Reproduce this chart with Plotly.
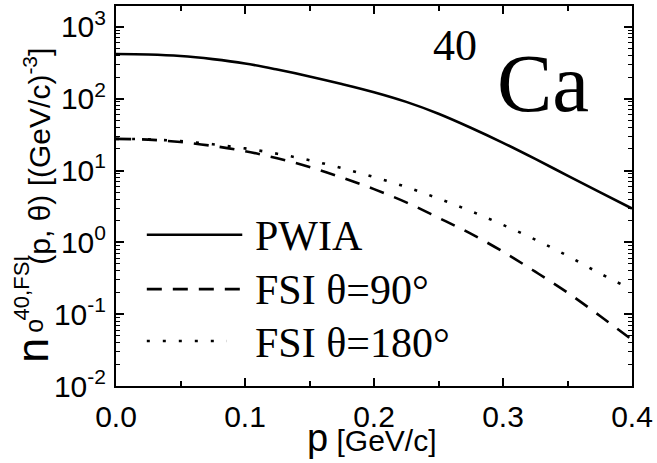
import plotly.graph_objects as go

p_vals = [0.0, 0.025, 0.05, 0.075, 0.1, 0.125, 0.15, 0.175, 0.2, 0.225, 0.25,
          0.275, 0.3, 0.325, 0.35, 0.375, 0.4]
pwia = [419, 412, 392, 355, 309, 254, 204, 160, 123, 90.2, 61.7, 39.4, 24.3, 14.5, 8.5,
        5.0, 2.95]
fsi90 = [27.6, 26.9, 24.9, 22.0, 18.6, 14.8, 11.2, 8.0, 5.5, 3.6, 2.2, 1.32, 0.74, 0.39,
         0.20, 0.095, 0.044]
fsi180 = [27.6, 27.1, 25.6, 23.2, 20.3, 17.1, 13.9, 10.8, 8.1, 5.9, 4.07, 2.72, 1.75, 1.09,
          0.65, 0.37, 0.22]

legend_labels = ["PWIA", "FSI θ=90°", "FSI θ=180°"]
x_tickvals = [0.0, 0.1, 0.2, 0.3, 0.4]
x_ticktext = ["0.0", "0.1", "0.2", "0.3", "0.4"]
y_tickvals = [1e-2, 1e-1, 1e0, 1e1, 1e2, 1e3]
y_ticktext = ["10<sup>-2</sup>", "10<sup>-1</sup>", "10<sup>0</sup>",
              "10<sup>1</sup>", "10<sup>2</sup>", "10<sup>3</sup>"]
y_minor = [m * 10 ** e for e in range(-2, 4) for m in range(2, 10)]

SANS = "Liberation Sans, Arial, sans-serif"
SERIF = "Liberation Serif, Times New Roman, serif"

fig = go.Figure()
styles = [("solid", 2.6), ("15px,11px", 2.6), ("3px,13px", 2.6)]
for yv, (dash, w) in zip([pwia, fsi90, fsi180], styles):
    fig.add_trace(go.Scatter(x=p_vals, y=yv, mode="lines",
                             line=dict(color="black", width=w, dash=dash, shape="spline"),
                             showlegend=False, hoverinfo="skip"))

# legend drawn manually (long sample lines)
leg_y = [0.398, 0.255, 0.1186]
leg_text_y = [0.395, 0.253, 0.113]
leg_x1 = [0.2447, 0.2447, 0.215]
for (dash, w), ly, ty, lab, x1 in zip(styles, leg_y, leg_text_y, legend_labels, leg_x1):
    fig.add_shape(type="line", xref="paper", yref="paper", x0=0.0597, x1=x1, y0=ly, y1=ly,
                  line=dict(color="black", width=w, dash=dash))
    fig.add_annotation(text=lab, xref="paper", yref="paper", x=0.266, y=ty,
                       xanchor="left", yanchor="middle", showarrow=False,
                       font=dict(family=SERIF, size=42, color="black"))

# 40Ca label
fig.add_annotation(text="Ca", xref="paper", yref="paper", x=0.735, y=0.798,
                   xanchor="left", yanchor="middle", showarrow=False,
                   font=dict(family=SERIF, size=83, color="black"))
fig.add_annotation(text="40", xref="paper", yref="paper", x=0.703, y=0.895,
                   xanchor="right", yanchor="middle", showarrow=False,
                   font=dict(family=SERIF, size=44, color="black"))

# y-axis title pieces
fig.add_annotation(text="n", xref="paper", yref="paper", x=-0.162, y=0.094,
                   textangle=-90, xanchor="center", yanchor="middle", showarrow=False,
                   font=dict(family=SANS, size=45, color="black"))
fig.add_annotation(text="o", xref="paper", yref="paper", x=-0.158, y=0.16,
                   textangle=-90, xanchor="center", yanchor="middle", showarrow=False,
                   font=dict(family=SANS, size=25, color="black"))
fig.add_annotation(text="40,FSI", xref="paper", yref="paper", x=-0.184, y=0.257,
                   textangle=-90, xanchor="center", yanchor="middle", showarrow=False,
                   font=dict(family=SANS, size=22, color="black"))
fig.add_annotation(text="(p, θ) [(GeV/c)<sup>-3</sup>]", xref="paper", yref="paper",
                   x=-0.152, y=0.605, textangle=-90, xanchor="center", yanchor="middle",
                   showarrow=False, font=dict(family=SANS, size=30, color="black"))

# x-axis title
fig.add_annotation(text="<span style='font-size:38px'>p</span> [GeV/c]", xref="paper",
                   yref="paper", x=0.497, y=-0.136, xanchor="center", yanchor="middle",
                   showarrow=False, font=dict(family=SANS, size=30, color="black"))

axis_common = dict(showgrid=False, zeroline=False, showline=True, linecolor="black",
                   linewidth=2, mirror="allticks", ticks="inside", tickcolor="black",
                   tickwidth=1.5, tickfont=dict(family=SANS, size=30, color="black"))

fig.update_xaxes(range=[0, 0.4], tickmode="array", tickvals=x_tickvals, ticktext=x_ticktext,
                 ticklen=8, ticklabelstandoff=3,
                 minor=dict(tickmode="array", tickvals=[0.05, 0.15, 0.25, 0.35],
                            ticks="inside", ticklen=5, tickcolor="black", tickwidth=1.5),
                 **axis_common)
fig.update_yaxes(type="log", range=[-2, 3.29], tickmode="array", tickvals=y_tickvals,
                 ticktext=y_ticktext, ticklen=8, ticklabelstandoff=2,
                 minor=dict(tickmode="array", tickvals=y_minor, ticks="inside", ticklen=4,
                            tickcolor="black", tickwidth=1.2),
                 **axis_common)

fig.update_layout(width=657, height=463, margin=dict(l=116, r=22, t=4, b=77),
                  paper_bgcolor="white", plot_bgcolor="white", showlegend=False)

fig.write_html("out.html", config={"displayModeBar": False},
               post_script="document.body.style.margin='0';")
